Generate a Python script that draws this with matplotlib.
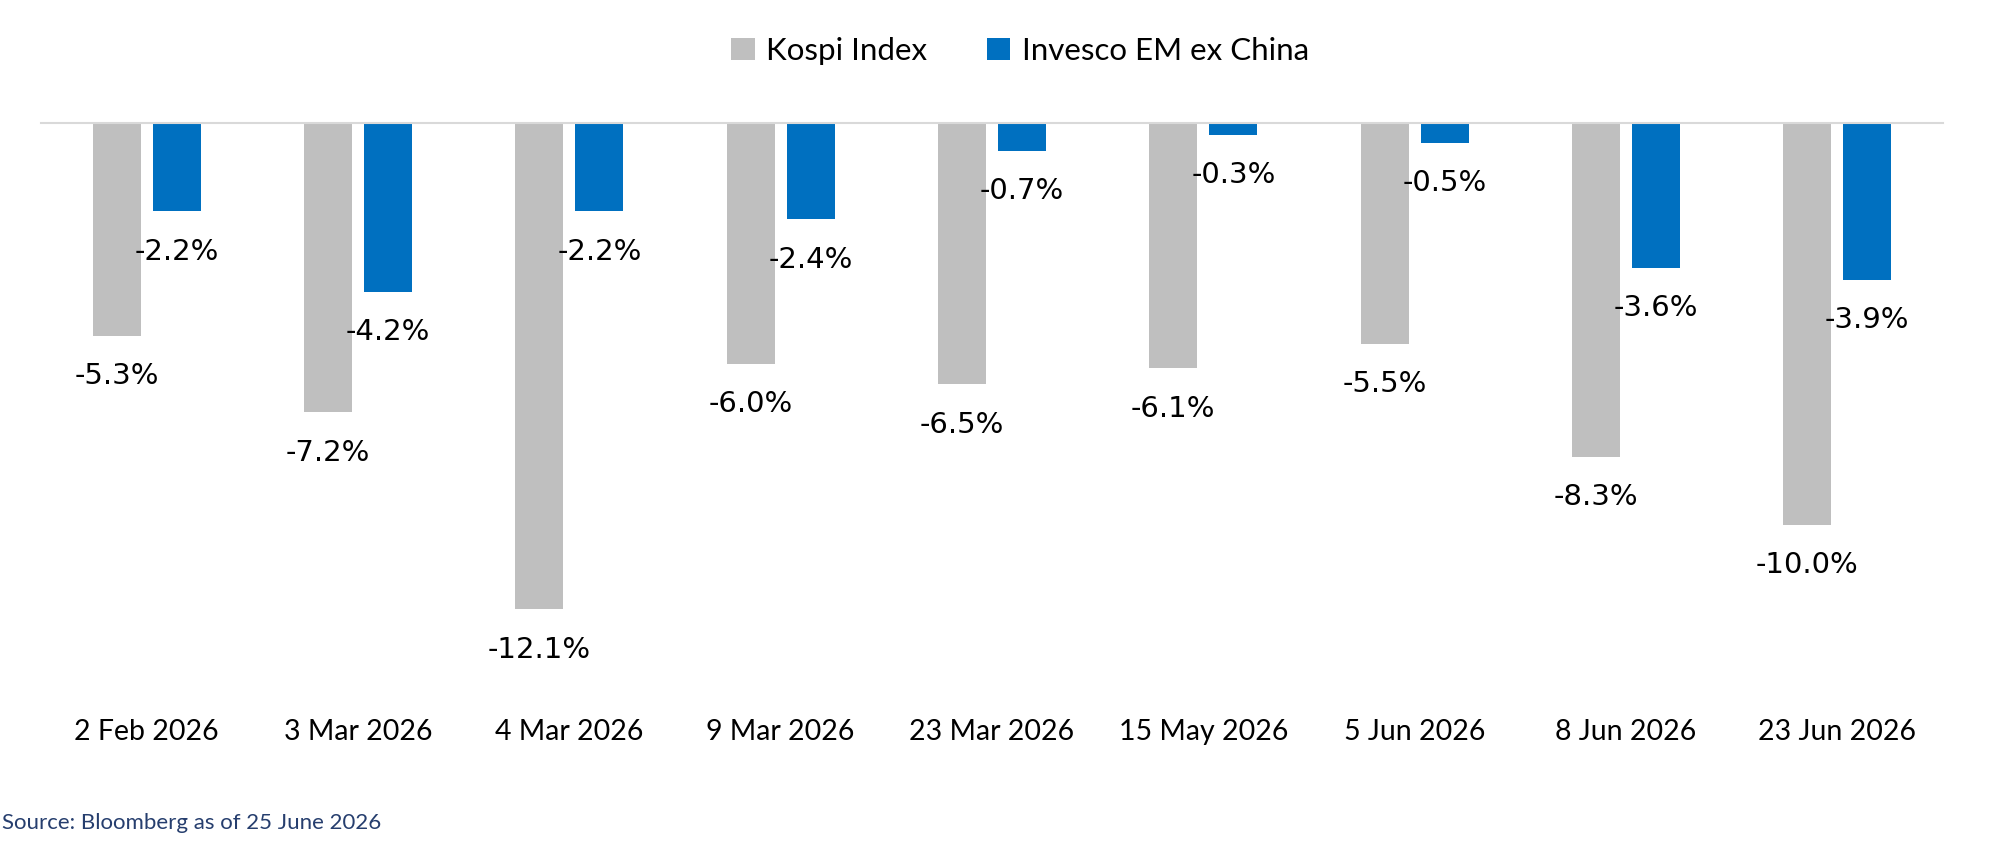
""" kospi vs invesco em ex china drawdowns """
import numpy as np
import matplotlib
matplotlib.use("Agg")
import matplotlib.pyplot as plt
from matplotlib.patches import Patch

dates = ["2 Feb 2026", "3 Mar 2026", "4 Mar 2026", "9 Mar 2026", "23 Mar 2026",
         "15 May 2026", "5 Jun 2026", "8 Jun 2026", "23 Jun 2026"]
kospi = [-5.3, -7.2, -12.1, -6.0, -6.5, -6.1, -5.5, -8.3, -10.0]
invesco = [-2.2, -4.2, -2.2, -2.4, -0.7, -0.3, -0.5, -3.6, -3.9]
series_names = ["Kospi Index", "Invesco EM ex China"]
source_text = "Source: Bloomberg as of 25 June 2026"

GREY = "#BFBFBF"
BLUE = "#0070C0"

fig = plt.figure(figsize=(19.99, 8.52), dpi=100)
ax = fig.add_axes([41 / 1999, 1 - 683 / 852, (1943 - 41) / 1999, (683 - 123) / 852])

x = np.arange(len(dates))
width = 0.227
off = 0.142
ax.bar(x - off, kospi, width, color=GREY)
ax.bar(x + off, invesco, width, color=BLUE)

# value labels under each bar
for xs, vals in ((x - off, kospi), (x + off, invesco)):
    for xi, v in zip(xs, vals):
        ax.annotate(f"{v:.1f}%", xy=(xi, v), xytext=(0, -29), textcoords="offset points",
                    ha="center", va="center", fontsize=21, family="DejaVu Sans", color="black")

ax.set_xlim(-0.5, len(dates) - 0.5)
ax.set_ylim(-13.93, 0)
ax.set_xticks(x)
ax.set_xticklabels(dates, fontsize=20.5, family="Lato")
ax.tick_params(axis="x", length=0, pad=26)
ax.set_yticks([])
for s in ["left", "right", "bottom"]:
    ax.spines[s].set_visible(False)
ax.spines["top"].set_color("#D9D9D9")
ax.spines["top"].set_linewidth(1.5)

handles = [Patch(facecolor=GREY), Patch(facecolor=BLUE)]
fig.legend(handles, series_names, loc="center", bbox_to_anchor=(1020 / 1999, 1 - 51 / 852),
           ncol=2, frameon=False, prop={"family": "Lato", "size": 22.5},
           handlelength=0.75, handleheight=0.7, handletextpad=0.37, columnspacing=1.9)

fig.text(2 / 1999, 1 - 823 / 852, source_text, fontsize=16, family="Lato",
         color="#263E6E", ha="left", va="center")

fig.savefig("out.png", dpi=100)
